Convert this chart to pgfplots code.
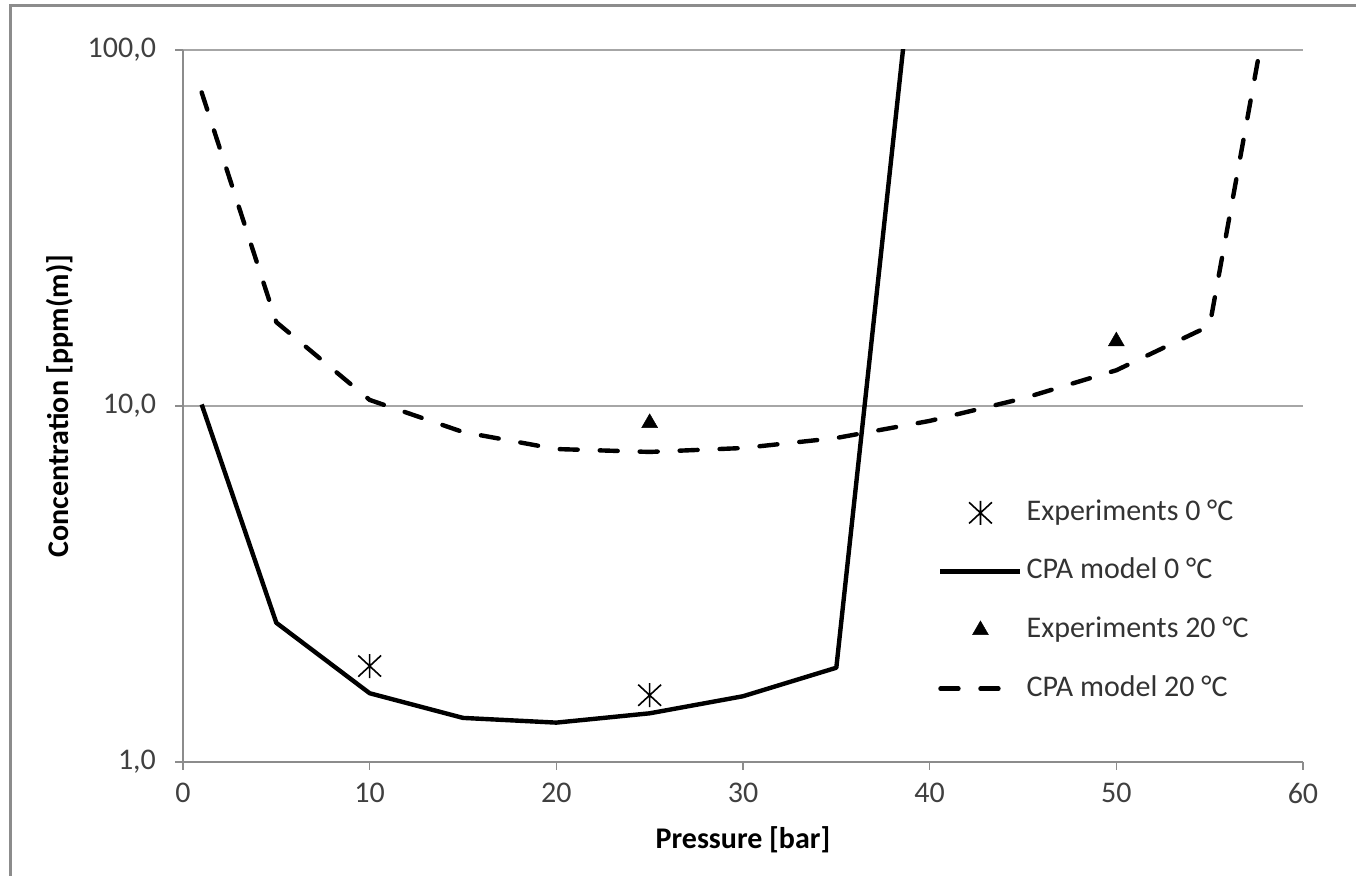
\documentclass[border=0pt]{standalone}
\usepackage{pgfplots}
\pgfplotsset{compat=1.18}
\usepackage{fontspec}
\setmainfont{Carlito}
\pgfdeclareplotmark{xast}{%
  \pgfpathmoveto{\pgfqpoint{0pt}{\pgfplotmarksize}}%
  \pgfpathlineto{\pgfqpoint{0pt}{-\pgfplotmarksize}}%
  \pgfpathmoveto{\pgfqpoint{0.95\pgfplotmarksize}{0.88\pgfplotmarksize}}%
  \pgfpathlineto{\pgfqpoint{-0.95\pgfplotmarksize}{-0.88\pgfplotmarksize}}%
  \pgfpathmoveto{\pgfqpoint{-0.95\pgfplotmarksize}{0.88\pgfplotmarksize}}%
  \pgfpathlineto{\pgfqpoint{0.95\pgfplotmarksize}{-0.88\pgfplotmarksize}}%
  \pgfusepathqstroke}
\begin{document}
\begin{tikzpicture}
\useasboundingbox (0pt,0pt) rectangle (678pt,438pt);
\draw[color=black!45, line width=1.5pt] (5pt,-2pt) -- (5pt,435pt) -- (680pt,435pt);
\begin{axis}[
  at={(91.5pt,57pt)}, anchor=south west,
  scale only axis, width=560pt, height=356pt,
  xmin=0, xmax=60, ymin=1, ymax=100, ymode=log,
  axis lines=left, axis line style={-, draw=black!45, line width=0.8pt},
  xtick={0,10,20,30,40,50,60},
  xticklabels={\textnormal{0},\textnormal{10},\textnormal{20},\textnormal{30},\textnormal{40},\textnormal{50},\textnormal{60}},
  ytick={1,10,100}, yticklabels={{\textnormal{1,0}},{\textnormal{10,0}},{\textnormal{100,0}}},
  yminorticks=false, xminorticks=false,
  tick align=outside, major tick length=4pt,
  tick style={draw=black!45, line width=0.8pt},
  ymajorgrids, grid style={draw=black!35, line width=0.8pt},
  /pgf/number format/assume math mode=true,
  tick label style={font=\fontsize{15}{18}\selectfont, text=black!75},
  xticklabel style={yshift=-3pt},
  yticklabel style={xshift=-6pt},
  xlabel={Pressure [bar]}, ylabel={Concentration [ppm(m)]},
  xlabel style={font=\fontsize{15}{18}\selectfont\bfseries, at={(axis description cs:0.5,-0.1096)}, anchor=center},
  ylabel style={font=\fontsize{15}{18}\selectfont\bfseries, at={(axis description cs:-0.1098,0.5)}, anchor=center},
  legend image code/.code={\draw[mark repeat=2,mark phase=2,#1] plot coordinates {(0pt,0pt) (20pt,0pt) (40pt,0pt)};},
  legend cell align=left,
  legend style={draw=none, fill=none, at={(0.674,0.375)}, anchor=north west, inner sep=0pt,
    font=\fontsize{15}{18}\selectfont, text=black!80, row sep=11.8pt,
    nodes={inner sep=2pt, text height=10.5pt, text depth=3pt}},
]
\addplot[only marks, mark=xast, mark size=6pt, mark options={line width=0.8pt, draw=black}] coordinates {(10,1.86) (25,1.54)};
\addlegendentry{Experiments 0 °C}
\addplot[black, line width=2.2pt, line join=round] coordinates {
(1,10.1) (5,2.46) (10,1.56) (15,1.33) (20,1.29) (25,1.37) (30,1.53) (35,1.84) (40,495)};
\addlegendentry{CPA model 0 °C}
\addplot[only marks, mark=triangle*, mark size=4.6pt, mark options={fill=black, draw=black, line width=0.2pt}] coordinates {(25,8.96) (50,15.2)};
\addlegendentry{Experiments 20 °C}
\addplot[black, line width=2.2pt, line cap=round, line join=round, dash pattern=on 9pt off 11pt] coordinates {
(1,76) (5,17.2) (10,10.4) (15,8.45) (20,7.57) (25,7.43) (30,7.62) (35,8.13) (40,9.08) (45,10.5) (50,12.6) (55,16.8) (60,465)};
\addlegendentry{CPA model 20 °C}
\end{axis}
\end{tikzpicture}
\end{document}
